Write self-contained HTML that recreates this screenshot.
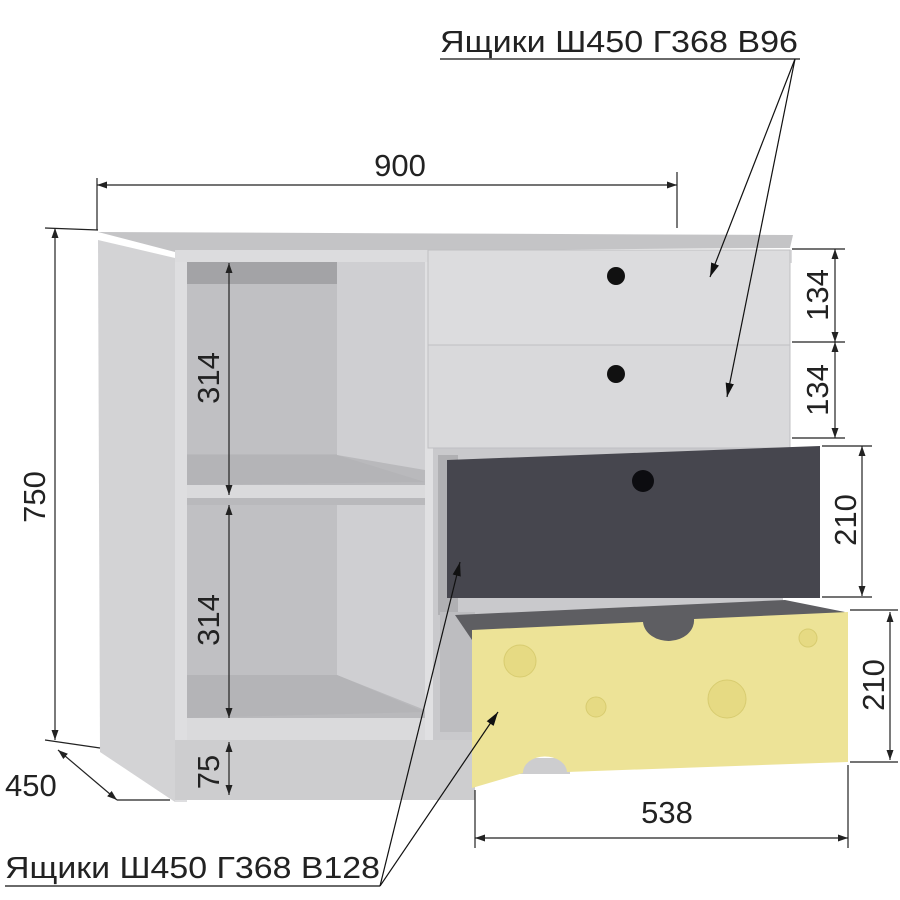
<!DOCTYPE html>
<html><head><meta charset="utf-8"><style>
html,body{margin:0;padding:0;background:#fff}
svg{display:block}
text{font-family:"Liberation Sans",sans-serif;fill:#222}
</style></head><body>
<svg width="900" height="900" viewBox="0 0 900 900" xmlns="http://www.w3.org/2000/svg">
<defs>
<marker id="a" viewBox="0 0 10 10" refX="10" refY="5" markerWidth="10" markerHeight="10" markerUnits="userSpaceOnUse" orient="auto-start-reverse"><path d="M0,1.5 L10,5 L0,8.5z" fill="#222"/></marker>
<marker id="b" viewBox="0 0 10 10" refX="10" refY="5" markerWidth="14" markerHeight="14" markerUnits="userSpaceOnUse" orient="auto"><path d="M0,2 L10,5 L0,8z" fill="#111"/></marker>
</defs>
<polygon points="98,240 175,258 175,802 100,752" fill="#d3d3d5"/>
<polygon points="98,232 793,235 790,248 175,252" fill="#c4c4c6"/>
<rect x="175" y="250" width="617" height="13" fill="#dcdcde"/>
<rect x="175" y="262" width="12" height="540" fill="#dedee0"/>
<rect x="187" y="262" width="240" height="480" fill="#b9b9bc"/>
<rect x="187" y="262" width="150" height="22" fill="#a3a3a6"/>
<rect x="187" y="284" width="150" height="170" fill="#c0c0c3"/>
<polygon points="337,262 425,262 425,470 337,455" fill="#cfcfd2"/>
<polygon points="187,455 337,455 425,482 187,485" fill="#b4b4b7"/>
<rect x="187" y="485" width="240" height="13" fill="#dadadc"/>
<rect x="187" y="505" width="150" height="170" fill="#c0c0c3"/>
<polygon points="337,505 425,505 425,710 337,675" fill="#cfcfd2"/>
<polygon points="187,675 337,675 425,712 187,718" fill="#b4b4b7"/>
<rect x="187" y="718" width="240" height="22" fill="#dadadc"/>
<rect x="425" y="262" width="8" height="480" fill="#e0e0e2"/>
<rect x="175" y="740" width="300" height="60" fill="#cdcdcf"/>
<rect x="433" y="440" width="350" height="300" fill="#c9c9cc"/>
<rect x="438" y="455" width="20" height="160" fill="#b0b0b3"/>
<rect x="440" y="612" width="35" height="120" fill="#bdbdc0"/>
<rect x="428" y="250" width="362" height="95" fill="#dcdcde" stroke="#c0c0c3"/>
<rect x="428" y="345" width="362" height="103" fill="#d9d9db" stroke="#c0c0c3"/>
<circle cx="616" cy="276" r="9" fill="#111"/>
<circle cx="616" cy="374" r="9" fill="#111"/>
<polygon points="447,460 820,446 820,598 447,598" fill="#46464e"/>
<circle cx="643" cy="481" r="11" fill="#0c0c10"/>
<polygon points="455,615 785,600 845,612 720,660 472,640" fill="#5e5e62"/>
<rect x="520" y="758" width="50" height="16" fill="#cdcdcf"/>
<path d="M472,630 L643,622 A25,20 0 0 0 694,619 L848,612 L848,762 L567,772 A22,16 0 0 0 523,773 L472,788 Z" fill="#ede397"/>
<g fill="#e6da83" stroke="#d8cc70">
<circle cx="520" cy="661" r="16"/><circle cx="596" cy="707" r="10"/><circle cx="727" cy="699" r="19"/><circle cx="808" cy="638" r="9"/>
</g>
<g stroke="#222" stroke-width="1.2" fill="none">
<line x1="97" y1="185" x2="677" y2="185" marker-start="url(#a)" marker-end="url(#a)"/>
<line x1="97" y1="178" x2="97" y2="230"/><line x1="677" y1="172" x2="677" y2="228"/>
<line x1="55" y1="228" x2="55" y2="740" marker-start="url(#a)" marker-end="url(#a)"/>
<line x1="45" y1="228" x2="98" y2="230"/><line x1="45" y1="740" x2="100" y2="748"/>
<line x1="58" y1="750" x2="117" y2="800" marker-start="url(#a)" marker-end="url(#a)"/>
<line x1="117" y1="800" x2="170" y2="800"/>
<line x1="229" y1="263" x2="229" y2="495" marker-start="url(#a)" marker-end="url(#a)"/>
<line x1="229" y1="505" x2="229" y2="718" marker-start="url(#a)" marker-end="url(#a)"/>
<line x1="229" y1="742" x2="229" y2="795" marker-start="url(#a)" marker-end="url(#a)"/>
<line x1="835" y1="249" x2="835" y2="342" marker-start="url(#a)" marker-end="url(#a)"/>
<line x1="835" y1="342" x2="835" y2="438" marker-start="url(#a)" marker-end="url(#a)"/>
<line x1="792" y1="249" x2="845" y2="249"/><line x1="792" y1="342" x2="845" y2="342"/><line x1="792" y1="438" x2="845" y2="438"/>
<line x1="862" y1="446" x2="862" y2="596" marker-start="url(#a)" marker-end="url(#a)"/>
<line x1="822" y1="446" x2="872" y2="446"/><line x1="822" y1="597" x2="872" y2="597"/>
<line x1="890" y1="612" x2="890" y2="760" marker-start="url(#a)" marker-end="url(#a)"/>
<line x1="850" y1="610" x2="898" y2="610"/><line x1="850" y1="762" x2="898" y2="762"/>
<line x1="475" y1="838" x2="848" y2="838" marker-start="url(#a)" marker-end="url(#a)"/>
<line x1="475" y1="790" x2="475" y2="848"/><line x1="848" y1="765" x2="848" y2="848"/>
</g>
<g stroke="#111" stroke-width="1.2">
<line x1="440" y1="59" x2="800" y2="59"/>
<line x1="795" y1="59" x2="710" y2="277" marker-end="url(#b)"/>
<line x1="795" y1="59" x2="727" y2="397" marker-end="url(#b)"/>
<line x1="5" y1="886" x2="380" y2="886"/>
<line x1="380" y1="886" x2="460" y2="562" marker-end="url(#b)"/>
<line x1="380" y1="886" x2="498" y2="712" marker-end="url(#b)"/>
</g>
<g font-size="31">
<text x="400" y="176" text-anchor="middle">900</text>
<text transform="translate(45,497) rotate(-90)" text-anchor="middle">750</text>
<text x="5" y="796">450</text>
<text transform="translate(219,378) rotate(-90)" text-anchor="middle">314</text>
<text transform="translate(219,620) rotate(-90)" text-anchor="middle">314</text>
<text transform="translate(219,772) rotate(-90)" text-anchor="middle">75</text>
<text transform="translate(828,295) rotate(-90)" text-anchor="middle">134</text>
<text transform="translate(828,390) rotate(-90)" text-anchor="middle">134</text>
<text transform="translate(856,520) rotate(-90)" text-anchor="middle">210</text>
<text transform="translate(884,685) rotate(-90)" text-anchor="middle">210</text>
<text x="667" y="823" text-anchor="middle">538</text>
</g>
<g font-size="31">
<text x="440" y="52" textLength="358" lengthAdjust="spacingAndGlyphs">Ящики Ш450 Г368 В96</text>
<text x="5" y="878" textLength="375" lengthAdjust="spacingAndGlyphs">Ящики Ш450 Г368 В128</text>
</g>
</svg>
</body></html>
